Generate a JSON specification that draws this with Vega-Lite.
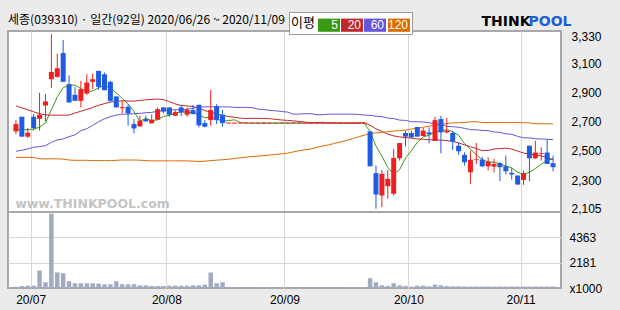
{
"$schema": "https://vega.github.io/schema/vega-lite/v6.json",
"width": 553, "height": 257,
"autosize": {"type": "none"},
"padding": {"left": 8, "top": 31, "right": 59, "bottom": 22},
"background": "#ebebeb",
"title": {"text": "세종(039310) · 일간(92일) 2020/06/26 ~ 2020/11/09", "anchor": "start", "frame": "group", "font": "Noto Sans CJK KR", "fontSize": 12, "fontWeight": "normal", "color": "#000000", "offset": 4, "dy": 19},
"data": {"values": [
{"i":0,"o":2634,"h":2711,"l":2616,"c":2684,"v":115,"m5":2648,"m20":2808,"m60":2498,"m120":2456},
{"i":1,"o":2734,"h":2734,"l":2598,"c":2598,"v":175,"m5":2645,"m20":2795,"m60":2505,"m120":2456},
{"i":2,"o":2598,"h":2657,"l":2589,"c":2625,"v":200,"m5":2645,"m20":2782,"m60":2514,"m120":2456},
{"i":3,"o":2734,"h":2752,"l":2639,"c":2657,"v":200,"m5":2650,"m20":2768,"m60":2525,"m120":2455},
{"i":4,"o":2720,"h":2898,"l":2639,"c":2748,"v":1510,"m5":2662,"m20":2755,"m60":2530,"m120":2446},
{"i":5,"o":2811,"h":2889,"l":2702,"c":2839,"v":494,"m5":2693,"m20":2747,"m60":2536,"m120":2446},
{"i":6,"o":2991,"h":3300,"l":2930,"c":3041,"v":6400,"m5":2782,"m20":2745,"m60":2559,"m120":2446},
{"i":7,"o":3007,"h":3166,"l":3002,"c":3066,"v":1337,"m5":2870,"m20":2745,"m60":2575,"m120":2446},
{"i":8,"o":3170,"h":3259,"l":2973,"c":2973,"v":1279,"m5":2933,"m20":2745,"m60":2582,"m120":2444},
{"i":9,"o":2957,"h":3018,"l":2832,"c":2832,"v":581,"m5":2950,"m20":2745,"m60":2598,"m120":2438},
{"i":10,"o":2884,"h":2939,"l":2843,"c":2843,"v":407,"m5":2951,"m20":2760,"m60":2610,"m120":2436},
{"i":11,"o":2843,"h":2980,"l":2798,"c":2923,"v":407,"m5":2927,"m20":2772,"m60":2639,"m120":2436},
{"i":12,"o":2893,"h":3025,"l":2884,"c":2968,"v":407,"m5":2908,"m20":2784,"m60":2652,"m120":2436},
{"i":13,"o":2973,"h":3030,"l":2923,"c":2991,"v":407,"m5":2911,"m20":2798,"m60":2675,"m120":2434},
{"i":14,"o":3048,"h":3048,"l":2918,"c":2939,"v":378,"m5":2933,"m20":2812,"m60":2700,"m120":2434},
{"i":15,"o":3025,"h":3036,"l":2916,"c":2916,"v":320,"m5":2947,"m20":2824,"m60":2720,"m120":2434},
{"i":16,"o":2973,"h":2980,"l":2836,"c":2843,"v":320,"m5":2931,"m20":2834,"m60":2735,"m120":2434},
{"i":17,"o":2873,"h":2873,"l":2798,"c":2798,"v":581,"m5":2897,"m20":2840,"m60":2745,"m120":2436},
{"i":18,"o":2793,"h":2843,"l":2757,"c":2800,"v":320,"m5":2859,"m20":2843,"m60":2752,"m120":2438},
{"i":19,"o":2802,"h":2820,"l":2673,"c":2757,"v":320,"m5":2823,"m20":2842,"m60":2752,"m120":2438},
{"i":20,"o":2684,"h":2718,"l":2620,"c":2654,"v":320,"m5":2770,"m20":2841,"m60":2755,"m120":2438},
{"i":21,"o":2668,"h":2741,"l":2668,"c":2707,"v":233,"m5":2703,"m20":2846,"m60":2757,"m120":2437},
{"i":22,"o":2718,"h":2741,"l":2702,"c":2702,"v":233,"m5":2724,"m20":2850,"m60":2762,"m120":2434},
{"i":23,"o":2689,"h":2748,"l":2689,"c":2714,"v":175,"m5":2707,"m20":2853,"m60":2764,"m120":2432},
{"i":24,"o":2714,"h":2798,"l":2714,"c":2786,"v":175,"m5":2713,"m20":2855,"m60":2772,"m120":2432},
{"i":25,"o":2798,"h":2798,"l":2757,"c":2770,"v":175,"m5":2736,"m20":2851,"m60":2775,"m120":2432},
{"i":26,"o":2798,"h":2798,"l":2734,"c":2748,"v":200,"m5":2744,"m20":2837,"m60":2780,"m120":2432},
{"i":27,"o":2741,"h":2780,"l":2741,"c":2766,"v":200,"m5":2757,"m20":2822,"m60":2782,"m120":2432},
{"i":28,"o":2798,"h":2816,"l":2739,"c":2764,"v":200,"m5":2767,"m20":2811,"m60":2782,"m120":2432},
{"i":29,"o":2748,"h":2798,"l":2734,"c":2780,"v":200,"m5":2766,"m20":2808,"m60":2785,"m120":2432},
{"i":30,"o":2780,"h":2816,"l":2752,"c":2752,"v":233,"m5":2762,"m20":2804,"m60":2792,"m120":2430},
{"i":31,"o":2816,"h":2816,"l":2661,"c":2675,"v":233,"m5":2747,"m20":2792,"m60":2800,"m120":2428},
{"i":32,"o":2691,"h":2711,"l":2661,"c":2666,"v":290,"m5":2727,"m20":2776,"m60":2802,"m120":2430},
{"i":33,"o":2711,"h":2918,"l":2673,"c":2780,"v":1337,"m5":2731,"m20":2766,"m60":2802,"m120":2434},
{"i":34,"o":2805,"h":2820,"l":2684,"c":2711,"v":407,"m5":2717,"m20":2754,"m60":2802,"m120":2437},
{"i":35,"o":2748,"h":2780,"l":2666,"c":2691,"v":494,"m5":2705,"m20":2743,"m60":2802,"m120":2440},
{"i":36,"o":2688,"h":2694,"l":2688,"c":2694,"v":60,"m5":2708,"m20":2736,"m60":2802,"m120":2443},
{"i":37,"o":2688,"h":2694,"l":2688,"c":2694,"v":60,"m5":2713,"m20":2730,"m60":2798,"m120":2448},
{"i":38,"o":2688,"h":2694,"l":2688,"c":2694,"v":60,"m5":2695,"m20":2725,"m60":2798,"m120":2453},
{"i":39,"o":2688,"h":2694,"l":2688,"c":2694,"v":60,"m5":2691,"m20":2722,"m60":2798,"m120":2458},
{"i":40,"o":2688,"h":2694,"l":2688,"c":2694,"v":60,"m5":2691,"m20":2723,"m60":2796,"m120":2462},
{"i":41,"o":2688,"h":2694,"l":2688,"c":2694,"v":60,"m5":2691,"m20":2723,"m60":2786,"m120":2465},
{"i":42,"o":2688,"h":2694,"l":2688,"c":2694,"v":60,"m5":2691,"m20":2722,"m60":2784,"m120":2468},
{"i":43,"o":2688,"h":2694,"l":2688,"c":2694,"v":60,"m5":2691,"m20":2721,"m60":2777,"m120":2472},
{"i":44,"o":2688,"h":2694,"l":2688,"c":2694,"v":60,"m5":2691,"m20":2716,"m60":2775,"m120":2476},
{"i":45,"o":2688,"h":2694,"l":2688,"c":2694,"v":60,"m5":2691,"m20":2712,"m60":2770,"m120":2480},
{"i":46,"o":2688,"h":2694,"l":2688,"c":2694,"v":60,"m5":2691,"m20":2709,"m60":2766,"m120":2485},
{"i":47,"o":2688,"h":2694,"l":2688,"c":2694,"v":60,"m5":2691,"m20":2706,"m60":2752,"m120":2494},
{"i":48,"o":2688,"h":2694,"l":2688,"c":2694,"v":60,"m5":2691,"m20":2702,"m60":2752,"m120":2502},
{"i":49,"o":2688,"h":2694,"l":2688,"c":2694,"v":60,"m5":2691,"m20":2697,"m60":2755,"m120":2508},
{"i":50,"o":2688,"h":2694,"l":2688,"c":2694,"v":60,"m5":2691,"m20":2694,"m60":2755,"m120":2514},
{"i":51,"o":2688,"h":2694,"l":2688,"c":2694,"v":60,"m5":2691,"m20":2695,"m60":2748,"m120":2525},
{"i":52,"o":2688,"h":2694,"l":2688,"c":2694,"v":60,"m5":2691,"m20":2696,"m60":2748,"m120":2534},
{"i":53,"o":2688,"h":2694,"l":2688,"c":2694,"v":60,"m5":2691,"m20":2692,"m60":2752,"m120":2542},
{"i":54,"o":2688,"h":2694,"l":2688,"c":2694,"v":60,"m5":2691,"m20":2691,"m60":2752,"m120":2552},
{"i":55,"o":2688,"h":2694,"l":2688,"c":2694,"v":60,"m5":2691,"m20":2691,"m60":2752,"m120":2562},
{"i":56,"o":2688,"h":2694,"l":2688,"c":2694,"v":60,"m5":2691,"m20":2691,"m60":2752,"m120":2572},
{"i":57,"o":2688,"h":2694,"l":2688,"c":2694,"v":60,"m5":2691,"m20":2691,"m60":2752,"m120":2584},
{"i":58,"o":2688,"h":2694,"l":2688,"c":2694,"v":60,"m5":2691,"m20":2691,"m60":2750,"m120":2596},
{"i":59,"o":2688,"h":2694,"l":2688,"c":2694,"v":60,"m5":2691,"m20":2691,"m60":2746,"m120":2608},
{"i":60,"o":2634,"h":2634,"l":2395,"c":2395,"v":843,"m5":2632,"m20":2676,"m60":2744,"m120":2618},
{"i":61,"o":2348,"h":2400,"l":2105,"c":2202,"v":494,"m5":2534,"m20":2651,"m60":2738,"m120":2624},
{"i":62,"o":2195,"h":2370,"l":2116,"c":2343,"v":233,"m5":2464,"m20":2634,"m60":2735,"m120":2628},
{"i":63,"o":2259,"h":2370,"l":2173,"c":2309,"v":175,"m5":2388,"m20":2615,"m60":2725,"m120":2632},
{"i":64,"o":2207,"h":2514,"l":2195,"c":2452,"v":407,"m5":2340,"m20":2603,"m60":2722,"m120":2636},
{"i":65,"o":2450,"h":2554,"l":2434,"c":2554,"v":233,"m5":2372,"m20":2596,"m60":2711,"m120":2640},
{"i":66,"o":2623,"h":2639,"l":2529,"c":2598,"v":175,"m5":2451,"m20":2592,"m60":2709,"m120":2643},
{"i":67,"o":2623,"h":2639,"l":2589,"c":2593,"v":116,"m5":2501,"m20":2587,"m60":2700,"m120":2650},
{"i":68,"o":2664,"h":2664,"l":2598,"c":2598,"v":200,"m5":2559,"m20":2582,"m60":2700,"m120":2655},
{"i":69,"o":2602,"h":2657,"l":2602,"c":2639,"v":200,"m5":2596,"m20":2580,"m60":2698,"m120":2662},
{"i":70,"o":2627,"h":2661,"l":2552,"c":2614,"v":145,"m5":2608,"m20":2576,"m60":2693,"m120":2670},
{"i":71,"o":2568,"h":2734,"l":2568,"c":2711,"v":290,"m5":2631,"m20":2577,"m60":2686,"m120":2675},
{"i":72,"o":2718,"h":2741,"l":2484,"c":2627,"v":233,"m5":2638,"m20":2574,"m60":2682,"m120":2682},
{"i":73,"o":2627,"h":2725,"l":2620,"c":2639,"v":175,"m5":2646,"m20":2571,"m60":2668,"m120":2688},
{"i":74,"o":2623,"h":2639,"l":2507,"c":2564,"v":145,"m5":2631,"m20":2565,"m60":2666,"m120":2692},
{"i":75,"o":2536,"h":2559,"l":2473,"c":2498,"v":145,"m5":2608,"m20":2555,"m60":2662,"m120":2693},
{"i":76,"o":2473,"h":2491,"l":2400,"c":2423,"v":130,"m5":2550,"m20":2542,"m60":2655,"m120":2694},
{"i":77,"o":2354,"h":2502,"l":2275,"c":2439,"v":130,"m5":2513,"m20":2529,"m60":2646,"m120":2700},
{"i":78,"o":2439,"h":2554,"l":2411,"c":2443,"v":130,"m5":2473,"m20":2517,"m60":2645,"m120":2700},
{"i":79,"o":2441,"h":2461,"l":2389,"c":2395,"v":130,"m5":2440,"m20":2502,"m60":2640,"m120":2695},
{"i":80,"o":2395,"h":2457,"l":2366,"c":2427,"v":130,"m5":2425,"m20":2503,"m60":2639,"m120":2694},
{"i":81,"o":2393,"h":2445,"l":2354,"c":2411,"v":130,"m5":2423,"m20":2514,"m60":2630,"m120":2694},
{"i":82,"o":2416,"h":2423,"l":2293,"c":2389,"v":130,"m5":2413,"m20":2516,"m60":2627,"m120":2694},
{"i":83,"o":2395,"h":2468,"l":2339,"c":2361,"v":130,"m5":2397,"m20":2519,"m60":2617,"m120":2694},
{"i":84,"o":2350,"h":2384,"l":2304,"c":2339,"v":130,"m5":2385,"m20":2513,"m60":2614,"m120":2694},
{"i":85,"o":2332,"h":2332,"l":2270,"c":2270,"v":130,"m5":2354,"m20":2499,"m60":2600,"m120":2694},
{"i":86,"o":2302,"h":2366,"l":2268,"c":2348,"v":130,"m5":2341,"m20":2486,"m60":2590,"m120":2694},
{"i":87,"o":2536,"h":2536,"l":2293,"c":2450,"v":130,"m5":2354,"m20":2479,"m60":2589,"m120":2692},
{"i":88,"o":2450,"h":2570,"l":2445,"c":2489,"v":130,"m5":2379,"m20":2474,"m60":2584,"m120":2686},
{"i":89,"o":2480,"h":2525,"l":2434,"c":2486,"v":130,"m5":2409,"m20":2466,"m60":2582,"m120":2686},
{"i":90,"o":2489,"h":2582,"l":2411,"c":2411,"v":130,"m5":2437,"m20":2456,"m60":2580,"m120":2686},
{"i":91,"o":2416,"h":2468,"l":2361,"c":2389,"v":130,"m5":2445,"m20":2440,"m60":2577,"m120":2686}
]},
"config": {
  "view": {"fill": "white", "stroke": "#a8a8a8", "strokeWidth": 2},
  "axis": {"ticks": false, "domain": false, "gridColor": "#d8d8d8", "gridWidth": 1, "labelFont": "Liberation Sans", "labelFontSize": 12, "labelColor": "#000000", "labelFlush": false, "labelOverlap": false, "labelBound": false}
},
"resolve": {"scale": {"y": "independent"}, "axis": {"y": "independent"}},
"layer": [
  {
    "layer": [
      {
        "mark": {"type": "bar", "size": 4.5, "color": "#a3abc3"},
        "encoding": {
          "x": {"field": "i", "type": "quantitative", "scale": {"domain": [-0.5, 91.5], "nice": false, "zero": false},
            "axis": {"values": [2.5, 25.5, 45.5, 66.5, 85.5], "labelExpr": "datum.value == 2.5 ? '20/07' : datum.value == 25.5 ? '20/08' : datum.value == 45.5 ? '20/09' : datum.value == 66.5 ? '20/10' : '20/11'", "labelPadding": 6, "grid": true,
              "title": "www.THINKPOOL.com", "titleX": 84, "titleY": -85, "titleColor": "#c4c4c4", "titleFont": "DejaVu Sans", "titleFontSize": 12.5, "titleFontWeight": "bold", "titleAlign": "center", "titleBaseline": "middle"}},
          "y": {"field": "v", "type": "quantitative", "scale": {"domain": [0, 22133], "nice": false, "zero": true},
            "axis": {"orient": "right", "values": [0, 2181, 4363], "format": "d", "labelExpr": "datum.value == 0 ? 'x1000' : datum.label", "labelPadding": 8,
              "gridOpacity": {"condition": {"test": "datum.value == 0", "value": 0}, "value": 1},
              "title": "POOL", "titleX": -33, "titleY": -10, "titleAngle": 0, "titleAlign": "left", "titleBaseline": "middle", "titleColor": "#1f5fd6", "titleFont": "DejaVu Sans", "titleFontSize": 14, "titleFontWeight": "bold"}}
        }
      },
      {
        "mark": {"type": "rule", "color": "#a8a8a8", "strokeWidth": 2},
        "encoding": {"y": {"datum": 6545, "type": "quantitative"}}
      }
    ]
  },
  {
    "layer": [
      {
        "transform": [{"fold": ["m5", "m20", "m60", "m120"], "as": ["n", "val"]}],
        "mark": {"type": "line", "strokeWidth": 1},
        "encoding": {
          "x": {"field": "i", "type": "quantitative", "scale": {"domain": [-0.5, 91.5], "nice": false, "zero": false}},
          "y": {"field": "val", "type": "quantitative", "scale": {"domain": [1562, 3321], "nice": false, "zero": false},
            "axis": {"orient": "right", "values": [2105, 2300, 2500, 2700, 2900, 3100, 3280], "labelExpr": "datum.value == 3280 ? '3,330' : format(datum.value, ',')", "labelPadding": 10,
              "gridOpacity": {"condition": {"test": "datum.value == 3280 || datum.value == 2105", "value": 0}, "value": 1},
              "encode": {"labels": {"update": {"fill": {"signal": "datum.value == 3280 ? '#c86400' : datum.value == 2105 ? '#1414c8' : '#000000'"}}}},
              "title": "THINK", "titleX": -80, "titleY": -10, "titleAngle": 0, "titleAlign": "left", "titleBaseline": "middle", "titleColor": "#000000", "titleFont": "DejaVu Sans", "titleFontSize": 14, "titleFontWeight": "bold"}},
          "color": {"field": "n", "type": "nominal", "scale": {"domain": ["m5", "m20", "m60", "m120"], "range": ["#3a9a14", "#c0282a", "#6655dd", "#dd6a00"]},
            "legend": {"orient": "none", "legendX": 281, "legendY": -19, "direction": "horizontal", "title": "이평", "titleOrient": "left", "titleFont": "Noto Sans CJK KR", "titleFontSize": 13, "titleFontWeight": "normal", "titleColor": "#000000", "titlePadding": 3,
              "symbolType": "M-1,-0.6H1V0.6H-1Z", "symbolSize": 484, "symbolStrokeWidth": 0,
              "labelColor": "white", "labelFontSize": 12, "labelFont": "Liberation Sans", "labelAlign": "right", "labelOffset": -2, "labelLimit": 0, "labelExpr": "replace(datum.label, 'm', '')",
              "columnPadding": 1, "padding": 2, "fillColor": "white", "strokeColor": "#999999",
              "encode": {"symbols": {"update": {"fill": {"scale": "color", "field": "value"}}}}}}
        }
      },
      {
        "mark": {"type": "rule", "strokeWidth": 1},
        "encoding": {
          "x": {"field": "i", "type": "quantitative", "scale": {"domain": [-0.5, 91.5], "nice": false, "zero": false}},
          "y": {"field": "l", "type": "quantitative", "scale": {"domain": [1562, 3321], "nice": false, "zero": false}},
          "y2": {"field": "h"},
          "color": {"condition": {"test": "datum.c >= datum.o", "value": "#f01e1e"}, "value": "#1f5ce0"}
        }
      },
      {
        "mark": {"type": "bar", "size": 5},
        "encoding": {
          "x": {"field": "i", "type": "quantitative", "scale": {"domain": [-0.5, 91.5], "nice": false, "zero": false}},
          "y": {"field": "o", "type": "quantitative", "scale": {"domain": [1562, 3321], "nice": false, "zero": false}},
          "y2": {"field": "c"},
          "color": {"condition": {"test": "datum.c >= datum.o", "value": "#f01e1e"}, "value": "#1f5ce0"}
        }
      }
    ]
  }
]
}
